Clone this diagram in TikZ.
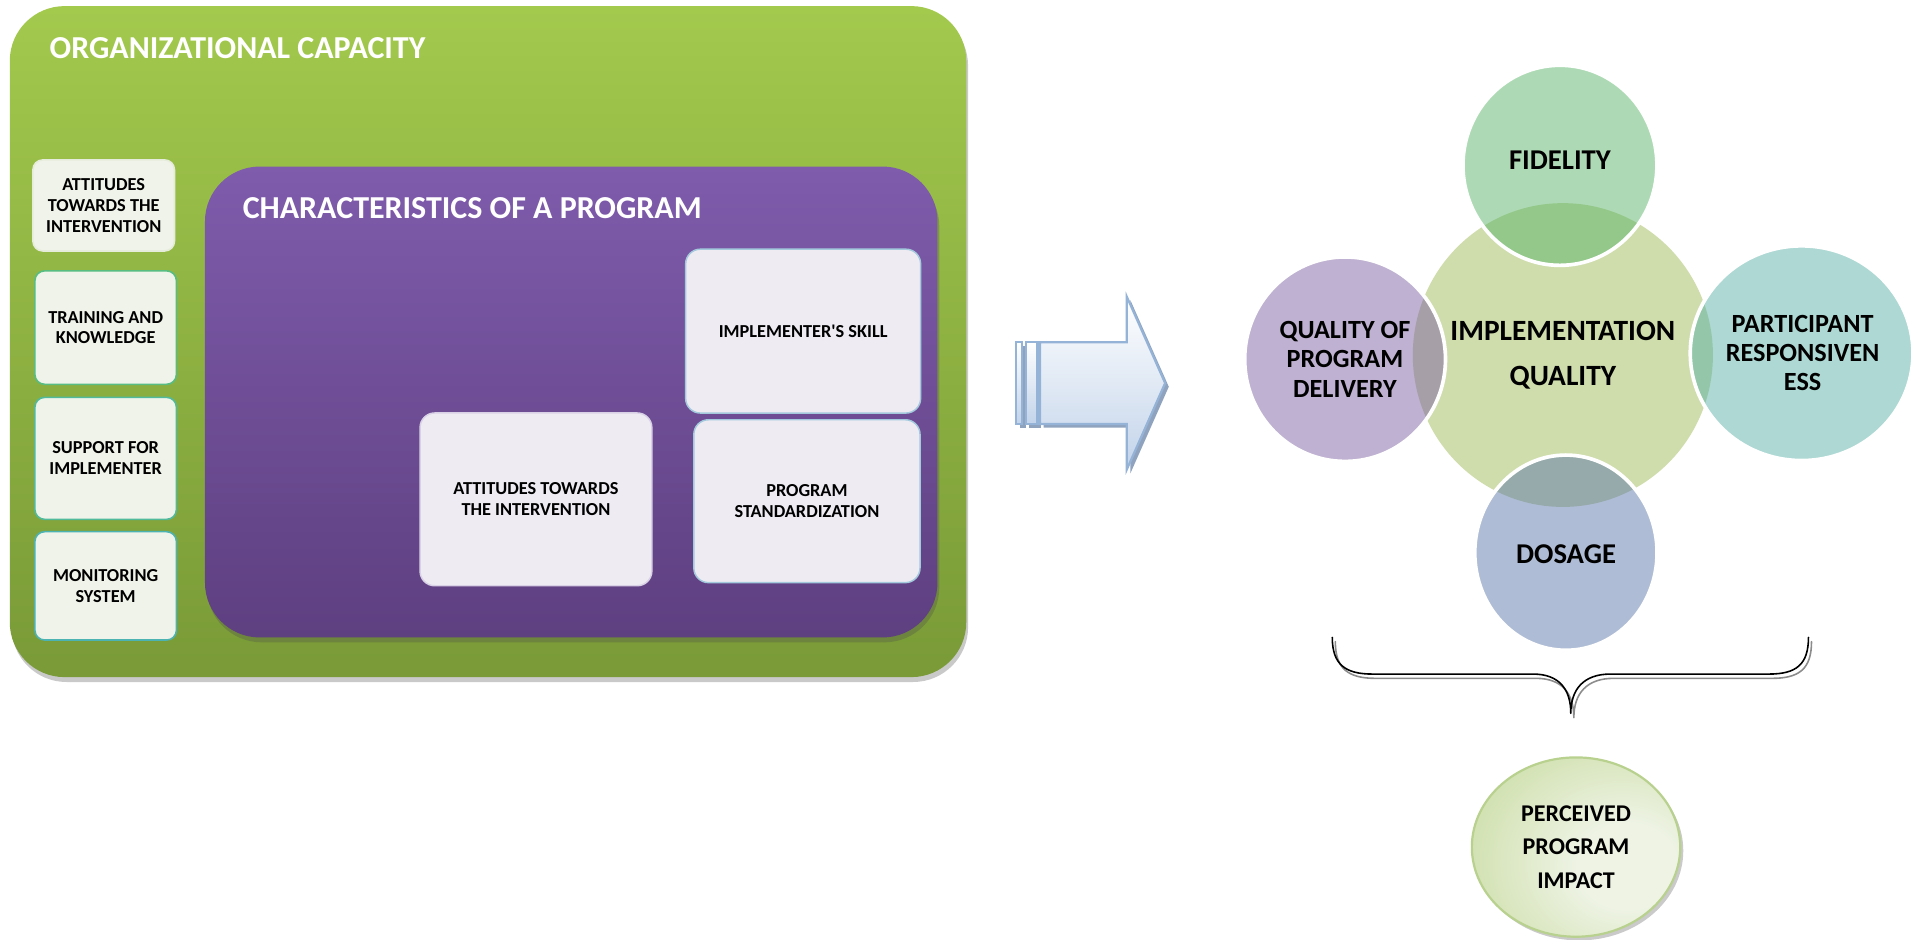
\documentclass[tikz,border=0pt]{standalone}
\usepackage{fontspec}
\setmainfont{Carlito}
\usetikzlibrary{shapes.geometric,shadows}
\definecolor{orgtop}{HTML}{A3C94D}
\definecolor{orgbot}{HTML}{799A37}
\definecolor{purtop}{HTML}{7F5CAC}
\definecolor{purbot}{HTML}{5E3F80}
\definecolor{boxfill}{HTML}{F0F3E9}
\definecolor{boxlineA}{HTML}{E6ECDC}
\definecolor{boxlineB}{HTML}{57BD82}
\definecolor{boxlineC}{HTML}{52BA9C}
\definecolor{boxlineD}{HTML}{4DB3B2}
\definecolor{pboxfill}{HTML}{EEEBF3}
\definecolor{pboxline}{HTML}{A3C9DC}
\definecolor{pboxlineB}{HTML}{D9D2E6}
\definecolor{centralc}{HTML}{CFDDAC}
\definecolor{fidc}{HTML}{5BB569}
\definecolor{qualc}{HTML}{7F63A3}
\definecolor{partc}{HTML}{5BB1A7}
\definecolor{dosc}{HTML}{5F79AB}
\definecolor{arrline}{HTML}{95B3D7}
\definecolor{arrbot}{HTML}{C2D3EA}
\definecolor{arrshadow}{HTML}{8FA3BF}
\definecolor{ppiin}{HTML}{EEF3E4}
\definecolor{ppiedge}{HTML}{C9DCA2}
\definecolor{ppiline}{HTML}{B8D18E}
\pgfdeclareradialshading{ppishade}{\pgfpoint{14bp}{-6bp}}{color(0bp)=(ppiin); color(12bp)=(ppiin); color(42bp)=(ppiedge); color(100bp)=(ppiedge)}
\begin{document}
\begin{tikzpicture}[x=1pt,y=-1pt,
  bigbox/.style={draw=none, rounded corners=45pt, inner sep=0pt,
     drop shadow={shadow xshift=1.5pt, shadow yshift=-4pt, opacity=0.3, fill=black!70}},
  titletext/.style={text=white, font=\fontsize{26.2}{30}\selectfont\bfseries, inner sep=0pt, anchor=west},
  leftbox/.style={fill=boxfill, rounded corners=8pt, line width=1.3pt, inner sep=0pt,
     minimum width=116pt, align=center, font=\fontsize{15}{17}\selectfont\bfseries},
  pbox/.style={fill=pboxfill, draw=pboxline, rounded corners=12pt, line width=1.2pt, inner sep=0pt,
     align=center, font=\fontsize{15}{17}\selectfont\bfseries},
  satellite/.style={ellipse, inner sep=0pt, draw=white, line width=3pt, fill opacity=0.5, text opacity=1, align=center},
  brace/.style={line width=1.3pt, line cap=round, line join=round}
]
\useasboundingbox (0,0) rectangle (1568,770);

% Organizational capacity
\node[bigbox, top color=orgtop, bottom color=orgbot, minimum width=784pt, minimum height=550pt] (org) at (400,280) {};
\node[titletext] (orgt) at (40.5,39.5) {ORGANIZATIONAL CAPACITY};

\node[leftbox, draw=boxlineA, minimum height=74.6pt] (l1) at (85,168.4) {ATTITUDES\\TOWARDS THE\\INTERVENTION};
\node[leftbox, draw=boxlineB, minimum height=93pt] (l2) at (86.6,268.5) {TRAINING AND\\KNOWLEDGE};
\node[leftbox, draw=boxlineC, minimum height=100pt] (l3) at (86.6,375.7) {SUPPORT FOR\\IMPLEMENTER};
\node[leftbox, draw=boxlineD, minimum height=88.8pt] (l4) at (86.6,480.2) {MONITORING\\SYSTEM};

% Characteristics of a program
\node[bigbox, top color=purtop, bottom color=purbot, minimum width=600.4pt, minimum height=386pt] (prog) at (468.2,329.5) {};
\node[titletext] (progt) at (198.8,170.9) {CHARACTERISTICS OF A PROGRAM};

\node[pbox, minimum width=192.6pt, minimum height=134.3pt] (skill) at (658.3,271.4) {IMPLEMENTER\textquotesingle S SKILL};
\node[pbox, draw=pboxlineB, minimum width=190pt, minimum height=141.6pt] (att) at (439.3,409.3) {ATTITUDES TOWARDS\\THE INTERVENTION};
\node[pbox, minimum width=185.4pt, minimum height=133.5pt] (std) at (661.4,410.8) {PROGRAM\\STANDARDIZATION};

% Block arrow
\fill[arrshadow] (855.5,283.6) -- (926.5,283.6) -- (926.5,246) -- (958,317) -- (926.5,388) -- (926.5,350.5) -- (855.5,350.5) -- cycle;
\fill[arrshadow] (836,283.6) rectangle (841,350.5);
\fill[arrshadow] (843.7,283.6) rectangle (853.3,350.5);
\shade[top color=white, bottom color=arrbot, draw=arrline, line width=1.8pt]
  (852.5,280.6) -- (923.5,280.6) -- (923.5,243) -- (955,314) -- (923.5,385) -- (923.5,347.5) -- (852.5,347.5) -- cycle;
\shade[top color=white, bottom color=arrbot, draw=arrline, line width=1.8pt] (833,280.6) rectangle (838,347.5);
\shade[top color=white, bottom color=arrbot, draw=arrline, line width=1.8pt] (840.7,280.6) rectangle (850.3,347.5);

% Implementation quality cluster
\node[ellipse, fill=centralc, inner sep=0pt, minimum width=246pt, minimum height=249pt] (iq) at (1281,291) {};
\node[satellite, fill=fidc, minimum width=159pt, minimum height=164pt] (fid) at (1278.6,135.5) {};
\node[satellite, fill=qualc, minimum width=164.6pt, minimum height=167.6pt] (qual) at (1102.5,294.4) {};
\node[satellite, fill=partc, minimum width=182.6pt, minimum height=176pt] (part) at (1476.7,289.5) {};
\node[satellite, fill=dosc, minimum width=149.4pt, minimum height=160pt] (dos) at (1283.5,453) {};

\node[font=\fontsize{24.1}{37}\selectfont\bfseries, align=center, inner sep=0pt] (iqt) at (iq.center) {IMPLEMENTATION\\QUALITY};
\node[font=\fontsize{23.5}{28}\selectfont\bfseries, inner sep=0pt] (fidt) at (1278.6,131.5) {FIDELITY};
\node[font=\fontsize{21.5}{24}\selectfont\bfseries, align=center, inner sep=0pt] (qualt) at (1102.4,294.5) {QUALITY OF\\PROGRAM\\DELIVERY};
\node[font=\fontsize{21.5}{24}\selectfont\bfseries, align=center, inner sep=0pt] (partt) at (1477.5,289.5) {PARTICIPANT\\RESPONSIVEN\\ESS};
\node[font=\fontsize{23.5}{28}\selectfont\bfseries, inner sep=0pt] (dost) at (1283.6,454.3) {DOSAGE};

% Brace
\coordinate (bl) at (1092,522.4);
\coordinate (br) at (1482.3,522.4);
\coordinate (tip) at (1287.5,584.7);
\begin{scope}[shift={(2.5,3.5)}]
\draw[brace, black!45] (1092,522.4) .. controls (1092,545) and (1103,552.5) .. (1125,552.5) -- (1256.5,552.5)
  .. controls (1278,552.5) and (1287.5,565) .. (1287.5,584.7)
  .. controls (1287.5,565) and (1298,552.5) .. (1320,552.5) -- (1449.8,552.5)
  .. controls (1472,552.5) and (1482.3,545) .. (1482.3,522.4);
\end{scope}
\draw[brace] (bl) .. controls (1092,545) and (1103,552.5) .. (1125,552.5) -- (1256.5,552.5)
  .. controls (1278,552.5) and (1287.5,565) .. (tip)
  .. controls (1287.5,565) and (1298,552.5) .. (1320,552.5) -- (1449.8,552.5)
  .. controls (1472,552.5) and (1482.3,545) .. (br);

% Perceived program impact
\node[ellipse, inner sep=0pt, minimum width=170.8pt, minimum height=147pt, draw=ppiline, line width=1.8pt,
  shading=ppishade,
  drop shadow={shadow xshift=2.5pt, shadow yshift=-3pt, opacity=0.35, fill=black!60},
  align=center, font=\fontsize{19.7}{27.4}\selectfont\bfseries] (ppi) at (1291.8,694.3) {PERCEIVED\\PROGRAM\\IMPACT};
\end{tikzpicture}
\end{document}
